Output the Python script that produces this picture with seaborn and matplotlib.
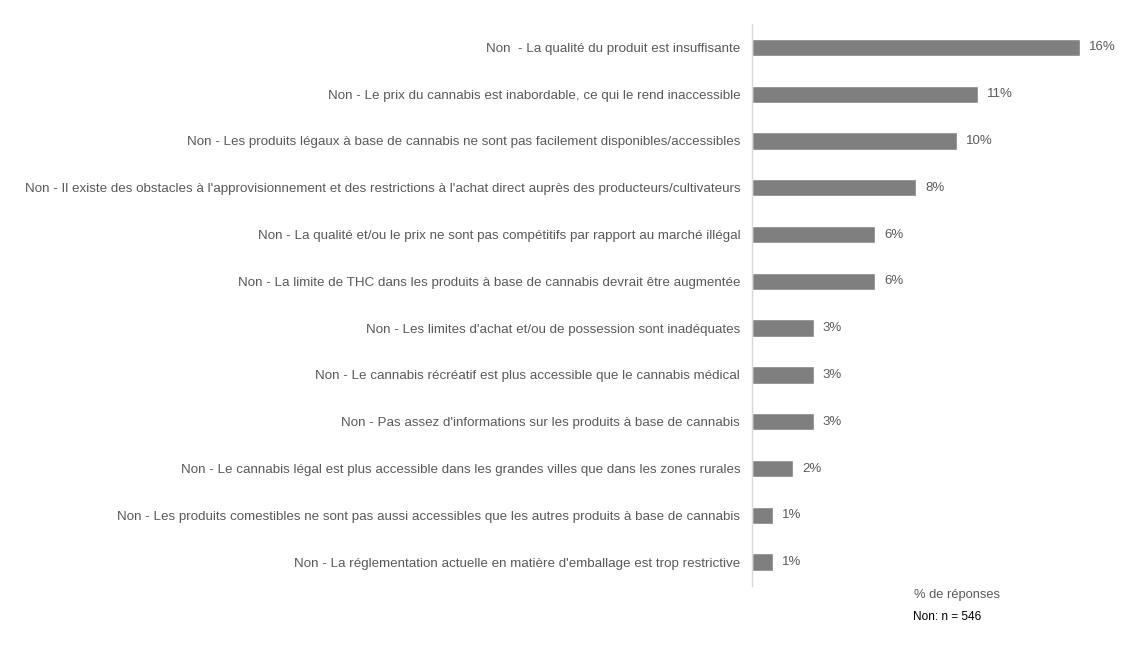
import pandas as pd
import matplotlib
matplotlib.use("Agg")
import matplotlib.pyplot as plt
import seaborn as sns

# categories and values (% of "Non" answers)
reasons = [
    "Non  - La qualité du produit est insuffisante",
    "Non - Le prix du cannabis est inabordable, ce qui le rend inaccessible",
    "Non - Les produits légaux à base de cannabis ne sont pas facilement disponibles/accessibles",
    "Non - Il existe des obstacles à l'approvisionnement et des restrictions à l'achat direct auprès des producteurs/cultivateurs",
    "Non - La qualité et/ou le prix ne sont pas compétitifs par rapport au marché illégal",
    "Non - La limite de THC dans les produits à base de cannabis devrait être augmentée",
    "Non - Les limites d'achat et/ou de possession sont inadéquates",
    "Non - Le cannabis récréatif est plus accessible que le cannabis médical",
    "Non - Pas assez d'informations sur les produits à base de cannabis",
    "Non - Le cannabis légal est plus accessible dans les grandes villes que dans les zones rurales",
    "Non - Les produits comestibles ne sont pas aussi accessibles que les autres produits à base de cannabis",
    "Non - La réglementation actuelle en matière d'emballage est trop restrictive",
]
percent = [16, 11, 10, 8, 6, 6, 3, 3, 3, 2, 1, 1]
axis_title = "% de réponses"
note = "Non: n = 546"

df = pd.DataFrame({"reason": reasons, "pct": percent})

sns.set_style("white")
plt.rcParams["font.family"] = ["Liberation Sans", "DejaVu Sans"]

fig = plt.figure(figsize=(11.4, 6.69), dpi=100, facecolor="white")
ax = fig.add_axes([752 / 1140, 83.5 / 669, 369 / 1140, 561.5 / 669])

sns.barplot(data=df, x="pct", y="reason", color="#7f7f7f", width=0.37,
            saturation=1, orient="h", ax=ax)

ax.set_xlim(0, 18)
ax.set_ylim(len(reasons) - 0.5, -0.5)

# percentage labels at the end of each bar
for i, v in enumerate(percent):
    ax.text(v + 0.45, i, f"{v}%", va="center", ha="left",
            fontsize=9.5, color="#595959")

ax.set_xlabel("")
ax.set_ylabel("")
ax.set_xticks([])
ax.tick_params(axis="y", length=0, pad=8.5, labelsize=9.6, labelcolor="#595959")

for side in ["top", "right", "bottom"]:
    ax.spines[side].set_visible(False)
ax.spines["left"].set_color("#d9d9d9")
ax.spines["left"].set_linewidth(1)

fig.text(957 / 1140, 1 - 595 / 669, axis_title, ha="center", va="center",
         fontsize=9.3, color="#595959")
fig.text(913 / 1140, 1 - 617 / 669, note, ha="left", va="center",
         fontsize=8.6, color="#000000")

fig.savefig("out.png", dpi=100, facecolor="white")
